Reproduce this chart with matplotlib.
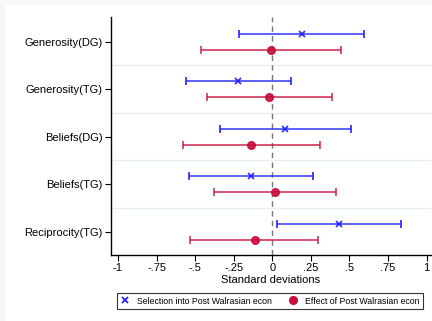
import matplotlib
matplotlib.use("Agg")
import matplotlib.pyplot as plt
from matplotlib.patches import Rectangle
from matplotlib.lines import Line2D

categories = ["Generosity(DG)", "Generosity(TG)", "Beliefs(DG)", "Beliefs(TG)", "Reciprocity(TG)"]
sel_point = [0.193, -0.222, 0.084, -0.140, 0.435]
sel_low = [-0.214, -0.562, -0.337, -0.540, 0.032]
sel_high = [0.597, 0.119, 0.510, 0.264, 0.837]
eff_point = [-0.006, -0.021, -0.138, 0.018, -0.114]
eff_low = [-0.460, -0.425, -0.581, -0.380, -0.534]
eff_high = [0.447, 0.385, 0.309, 0.415, 0.298]
xticks = [-1, -0.75, -0.5, -0.25, 0, 0.25, 0.5, 0.75, 1]
xticklabels = ["-1", "-.75", "-.5", "-.25", "0", ".25", ".5", ".75", "1"]
legend_labels = ['Selection into Post Walrasian econ', 'Effect of Post Walrasian econ']

plt.rcParams['font.family'] = ['Liberation Sans', 'DejaVu Sans']

fig = plt.figure(figsize=(4.32, 3.21), dpi=100, facecolor='#f7f7f7')
fig.patches.append(Rectangle((6/432, 0), 1, (321-5)/321, transform=fig.transFigure,
                             facecolor='white', edgecolor='none', zorder=-10))
ax = fig.add_axes([111/432, 66/321, 320/432, 238/321])
ax.set_facecolor('white')

pos = list(range(1, len(categories) + 1))
off = 0.17
blue = '#1f1fff'
red = '#c80c3a'

ys = [p - off for p in pos]
ax.errorbar(sel_point, ys,
            xerr=[[p - l for p, l in zip(sel_point, sel_low)], [h - p for p, h in zip(sel_point, sel_high)]],
            fmt='x', color=blue, ecolor=blue, elinewidth=1.1, capsize=3, capthick=1.1,
            markersize=5, markeredgewidth=1.3, alpha=0.9, zorder=3)
yr = [p + off for p in pos]
ax.errorbar(eff_point, yr,
            xerr=[[p - l for p, l in zip(eff_point, eff_low)], [h - p for p, h in zip(eff_point, eff_high)]],
            fmt='o', color=red, ecolor=red, elinewidth=1.1, capsize=3, capthick=1.1,
            markersize=5.5, alpha=0.9, zorder=3)

for s in [1.5, 2.5, 3.5, 4.5]:
    ax.axhline(s, color='#e6edf3', lw=1.0, zorder=1)
ax.axvline(0, color='#777777', lw=1.0, ls=(0, (4, 3)), zorder=2)

ax.set_xlim(-1.045, 1.029)
ax.set_ylim(5.49, 0.48)
ax.set_yticks(pos)
ax.set_yticklabels(categories, fontsize=8)
ax.set_xticks(xticks)
ax.set_xticklabels(xticklabels, fontsize=8)
ax.tick_params(direction='out', length=4, width=0.8, colors='black', pad=2)
ax.spines['top'].set_visible(False)
ax.spines['right'].set_visible(False)
ax.spines['left'].set_linewidth(1.0)
ax.spines['bottom'].set_linewidth(1.0)
ax.set_xlabel('Standard deviations', fontsize=8, labelpad=1)

handles = [Line2D([], [], ls='none', marker='x', color=blue, markersize=5, markeredgewidth=1.3),
           Line2D([], [], ls='none', marker='o', color=red, markersize=5.5)]
leg = fig.legend(handles, legend_labels, loc='center', bbox_to_anchor=(270/432, 20/321), ncol=2,
                 fontsize=6.3, frameon=True, fancybox=False, edgecolor='black',
                 handlelength=1.0, handletextpad=0.8, columnspacing=2.0, borderpad=0.45)
leg.get_frame().set_linewidth(0.8)

fig.savefig('out.png', dpi=100, facecolor=fig.get_facecolor())
